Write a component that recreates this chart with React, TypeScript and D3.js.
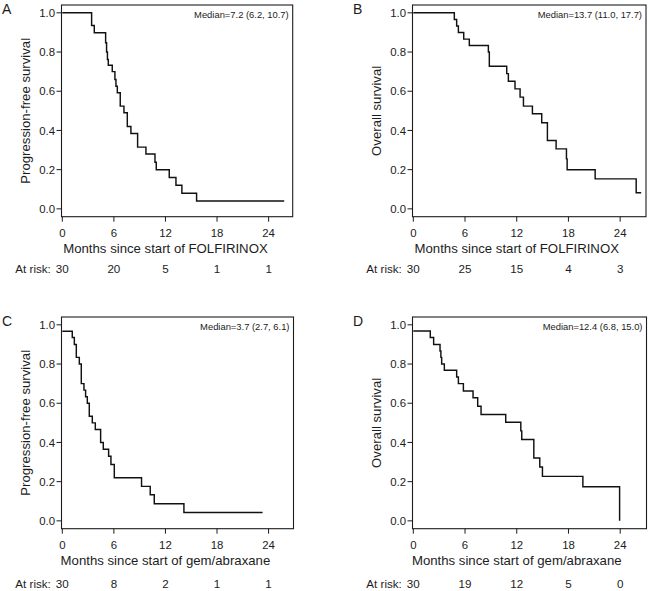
import React from "react";
import * as d3 from "d3";

// ---------- Data ----------
const xTicks = [0, 6, 12, 18, 24];
const yTicks = [0, 0.2, 0.4, 0.6, 0.8, 1.0];
const panelLetters = ["A", "B", "C", "D"];
const yLabels = ["Progression-free survival", "Overall survival", "Progression-free survival", "Overall survival"];
const xLabels = [
  "Months since start of FOLFIRINOX",
  "Months since start of FOLFIRINOX",
  "Months since start of gem/abraxane",
  "Months since start of gem/abraxane",
];
const medianTexts = [
  "Median=7.2 (6.2, 10.7)",
  "Median=13.7 (11.0, 17.7)",
  "Median=3.7 (2.7, 6.1)",
  "Median=12.4 (6.8, 15.0)",
];

// Panel A: PFS FOLFIRINOX
const timesA = [0, 3.41, 3.72, 5.04, 5.15, 5.25, 5.35, 5.81, 6.12, 6.24, 6.4, 6.74, 7.17, 7.56, 7.98, 8.76, 9.73, 10.78, 10.93, 12.44, 13.22, 13.91, 15.62];
const survA = [1.0, 0.935, 0.898, 0.847, 0.8, 0.762, 0.733, 0.7, 0.66, 0.626, 0.592, 0.524, 0.49, 0.42, 0.384, 0.315, 0.28, 0.238, 0.2, 0.16, 0.12, 0.08, 0.04];
const endA = 25.81;

// Panel B: OS FOLFIRINOX
const timesB = [0, 4.76, 5.03, 5.23, 5.85, 6.5, 8.71, 8.82, 10.84, 11.03, 11.8, 12.39, 12.78, 13.82, 14.9, 15.56, 16.57, 17.77, 17.85, 21.1, 25.86];
const survB = [1.0, 0.966, 0.933, 0.9, 0.866, 0.833, 0.8, 0.728, 0.69, 0.651, 0.612, 0.57, 0.524, 0.485, 0.439, 0.349, 0.306, 0.255, 0.2, 0.153, 0.082];
const endB = 26.44;

// Panel C: PFS gem/abraxane
const timesC = [0, 1.16, 1.4, 1.63, 1.98, 2.21, 2.52, 2.71, 2.91, 3.14, 3.49, 3.84, 4.46, 4.77, 5.39, 5.66, 6.05, 9.22, 10.23, 10.7, 14.15];
const survC = [0.967, 0.935, 0.9, 0.834, 0.8, 0.7, 0.667, 0.633, 0.6, 0.534, 0.5, 0.466, 0.4, 0.365, 0.33, 0.288, 0.22, 0.176, 0.133, 0.087, 0.043];
const endC = 23.3;

// Panel D: OS gem/abraxane
const timesD = [0, 1.97, 2.36, 3.1, 3.2, 3.29, 3.6, 5.03, 5.23, 5.81, 6.93, 7.47, 7.86, 10.72, 12.47, 12.58, 13.98, 14.67, 14.98, 19.67, 23.93];
const survD = [0.969, 0.935, 0.9, 0.867, 0.834, 0.8, 0.768, 0.734, 0.7, 0.662, 0.628, 0.585, 0.543, 0.503, 0.459, 0.415, 0.321, 0.275, 0.227, 0.174, 0.0];
const endD = 23.93;

const atRiskA = [30, 20, 5, 1, 1];
const atRiskB = [30, 25, 15, 4, 3];
const atRiskC = [30, 8, 2, 1, 1];
const atRiskD = [30, 19, 12, 5, 0];

// ---------- Layout ----------
const W = 649;
const H = 591;
const FONT = "'Liberation Sans', Arial, Helvetica, sans-serif";

interface Layout {
  left: number;
  right: number;
  top: number;
  bottom: number;
  xMax: number;
  atRiskY: number;
}

const layouts: Layout[] = [
  { left: 61.5, right: 292.7, top: 5, bottom: 216.7, xMax: 26.8, atRiskY: 273 },
  { left: 412.5, right: 646, top: 5, bottom: 216.7, xMax: 27.0, atRiskY: 273 },
  { left: 61.5, right: 293.5, top: 317, bottom: 528.7, xMax: 26.9, atRiskY: 588.3 },
  { left: 412.5, right: 646.5, top: 317, bottom: 528.7, xMax: 27.05, atRiskY: 588.3 },
];

const series = [
  { times: timesA, surv: survA, end: endA, atRisk: atRiskA },
  { times: timesB, surv: survB, end: endB, atRisk: atRiskB },
  { times: timesC, surv: survC, end: endC, atRisk: atRiskC },
  { times: timesD, surv: survD, end: endD, atRisk: atRiskD },
];

function Panel({ idx }: { idx: number }) {
  const L = layouts[idx];
  const s = series[idx];
  const x = d3.scaleLinear().domain([0, L.xMax]).range([L.left + 0.8, L.right]);
  const y = d3.scaleLinear().domain([-0.04, 1.04]).range([L.bottom, L.top]);
  const pts: [number, number][] = s.times.map((t, i) => [t, s.surv[i]] as [number, number]);
  pts.push([s.end, s.surv[s.surv.length - 1]]);
  const line = d3
    .line<[number, number]>()
    .x((d) => x(d[0]))
    .y((d) => y(d[1]))
    .curve(d3.curveStepAfter);
  const midX = x(12);
  const midY = (L.top + L.bottom) / 2;
  const ink = "#1c1c1c";
  return (
    <g>
      <text x={L.left - 59.5} y={L.top + 8.8} fontSize={14} fill={ink} fontFamily={FONT}>
        {panelLetters[idx]}
      </text>
      <rect
        x={L.left}
        y={L.top}
        width={L.right - L.left}
        height={L.bottom - L.top}
        fill="none"
        stroke={ink}
        strokeWidth={1.1}
      />
      {yTicks.map((v) => (
        <g key={"y" + v}>
          <line x1={L.left - 5} x2={L.left} y1={y(v)} y2={y(v)} stroke={ink} strokeWidth={1} />
          <text
            x={L.left - 6.5}
            y={y(v)}
            dy="0.36em"
            textAnchor="end"
            fontSize={11.4}
            fill={ink}
            fontFamily={FONT}
          >
            {v.toFixed(1)}
          </text>
        </g>
      ))}
      {xTicks.map((v) => (
        <g key={"x" + v}>
          <line x1={x(v)} x2={x(v)} y1={L.bottom} y2={L.bottom + 5} stroke={ink} strokeWidth={1} />
          <text x={x(v)} y={L.bottom + 20} textAnchor="middle" fontSize={11.4} fill={ink} fontFamily={FONT}>
            {v}
          </text>
        </g>
      ))}
      <text
        x={midX}
        y={L.bottom + 36.3}
        textAnchor="middle"
        fontSize={13.2}
        fill={ink}
        fontFamily={FONT}
      >
        {xLabels[idx]}
      </text>
      <text
        transform={`translate(${L.left - 32},${midY}) rotate(-90)`}
        textAnchor="middle"
        fontSize={13.2}
        fill={ink}
        fontFamily={FONT}
      >
        {yLabels[idx]}
      </text>
      <text
        x={L.right - 4}
        y={L.top + 12.6}
        textAnchor="end"
        fontSize={9.4}
        fill={ink}
        fontFamily={FONT}
      >
        {medianTexts[idx]}
      </text>
      <path d={line(pts) || ""} fill="none" stroke="#111" strokeWidth={1.45} />
      <text x={x(0) - 11.5} y={L.atRiskY} textAnchor="end" fontSize={11.6} fill={ink} fontFamily={FONT}>
        At risk:
      </text>
      {s.atRisk.map((n, i) => (
        <text
          key={"r" + i}
          x={x(xTicks[i])}
          y={L.atRiskY}
          textAnchor="middle"
          fontSize={11.6}
          fill={ink}
          fontFamily={FONT}
        >
          {n}
        </text>
      ))}
    </g>
  );
}

export default function App() {
  return (
    <>
      <style>{`body{margin:0}`}</style>
      <svg width={W} height={H} style={{ display: "block", background: "#fff" }}>
        {[0, 1, 2, 3].map((i) => (
          <Panel key={i} idx={i} />
        ))}
      </svg>
    </>
  );
}
